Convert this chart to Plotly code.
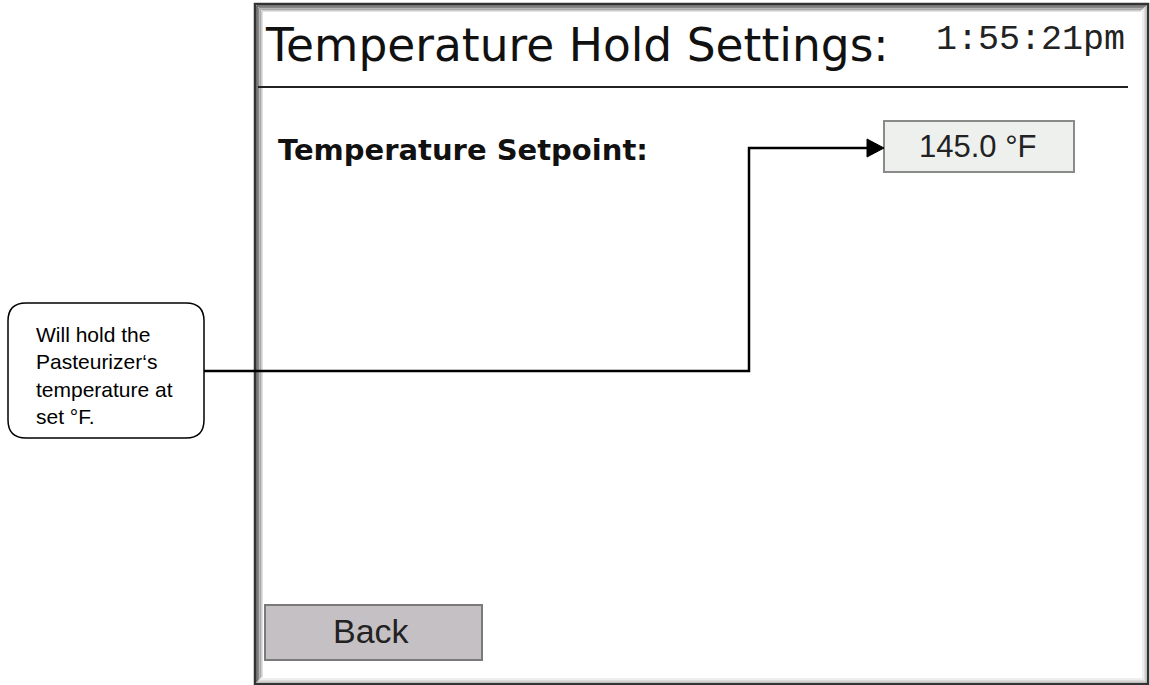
import plotly.graph_objects as go

# ---- content ----
title_text = ["Temperature Hold Settings:"]
clock_text = ["1:55:21pm"]
field_labels = ["Temperature Setpoint:"]
field_values = ["145.0 °F"]
button_labels = ["Back"]
callout_lines = ["Will hold the", "Pasteurizer‘s", "temperature at", "set °F."]

W, H = 1150, 685
fig = go.Figure()

shapes = []
# outer screen frame
shapes.append(dict(type="rect", x0=255, y0=4, x1=1148, y1=684,
                   line=dict(color="#333333", width=2.5), fillcolor="white", layer="below"))
# bevel lines (left/top darker grey, right/bottom light grey)
for i, c in enumerate(["#555555", "#888888", "#aaaaaa", "#cccccc"]):
    off = 2 + i * 1.6
    shapes.append(dict(type="line", x0=255 + off, y0=4 + off, x1=255 + off, y1=684 - off,
                       line=dict(color=c, width=1.6)))
    shapes.append(dict(type="line", x0=255 + off, y0=4 + off, x1=1148 - off, y1=4 + off,
                       line=dict(color=c, width=1.6)))
for i, c in enumerate(["#bbbbbb", "#dddddd", "#eeeeee"]):
    off = 2 + i * 1.6
    shapes.append(dict(type="line", x0=1148 - off, y0=4 + off, x1=1148 - off, y1=684 - off,
                       line=dict(color=c, width=1.6)))
    shapes.append(dict(type="line", x0=255 + off, y0=684 - off, x1=1148 - off, y1=684 - off,
                       line=dict(color=c, width=1.6)))
# header separator
shapes.append(dict(type="line", x0=258, y0=87, x1=1128, y1=87,
                   line=dict(color="#222222", width=2)))
# setpoint value box
shapes.append(dict(type="rect", x0=884, y0=121, x1=1074, y1=172,
                   line=dict(color="#8a8a8a", width=2), fillcolor="#eef0ee"))
# back button
shapes.append(dict(type="rect", x0=265, y0=605, x1=482, y1=660,
                   line=dict(color="#7a7a7a", width=2), fillcolor="#c4c0c4"))
# callout rounded box
x0, y0, x1, y1, r = 8, 303, 204, 438, 18
path = (f"M {x0+r},{y0} L {x1-r},{y0} Q {x1},{y0} {x1},{y0+r} "
        f"L {x1},{y1-r} Q {x1},{y1} {x1-r},{y1} L {x0+r},{y1} "
        f"Q {x0},{y1} {x0},{y1-r} L {x0},{y0+r} Q {x0},{y0} {x0+r},{y0} Z")
shapes.append(dict(type="path", path=path, line=dict(color="black", width=1.5),
                   fillcolor="white"))
# connector lines
shapes.append(dict(type="path", path="M 204,371 L 749,371 L 749,148 L 868,148",
                   line=dict(color="black", width=2.5)))
shapes.append(dict(type="path", path="M 867,139 L 884,148 L 867,157 Z",
                   line=dict(color="black", width=1), fillcolor="black"))

annotations = []
annotations.append(dict(x=263, y=45, text=title_text[0], showarrow=False,
                        xanchor="left", yanchor="middle",
                        font=dict(family="DejaVu Sans", size=45.5, color="#111111")))
annotations.append(dict(x=1127, y=40, text=clock_text[0], showarrow=False,
                        xanchor="right", yanchor="middle",
                        font=dict(family="Liberation Mono", size=35, color="#222222")))
annotations.append(dict(x=276, y=150, text="<b>" + field_labels[0] + "</b>", showarrow=False,
                        xanchor="left", yanchor="middle",
                        font=dict(family="DejaVu Sans", size=29, color="#111111")))
annotations.append(dict(x=978, y=146, text=field_values[0], showarrow=False,
                        xanchor="center", yanchor="middle",
                        font=dict(family="Liberation Sans", size=31, color="#222222")))
annotations.append(dict(x=371, y=631, text=button_labels[0], showarrow=False,
                        xanchor="center", yanchor="middle",
                        font=dict(family="Liberation Sans", size=34, color="#222222")))
annotations.append(dict(x=34, y=375, text="<br>".join(callout_lines), showarrow=False,
                        xanchor="left", yanchor="middle", align="left",
                        font=dict(family="Liberation Sans", size=21, color="black")))

fig.update_layout(
    width=W, height=H, margin=dict(l=0, r=0, t=0, b=0),
    paper_bgcolor="white", plot_bgcolor="white",
    xaxis=dict(range=[0, W], visible=False, fixedrange=True),
    yaxis=dict(range=[H, 0], visible=False, fixedrange=True),
    shapes=shapes, annotations=annotations, showlegend=False,
)
fig.write_html("out.html", config={"displayModeBar": False},
               post_script="document.body.style.margin='0';document.body.style.overflow='hidden';")
